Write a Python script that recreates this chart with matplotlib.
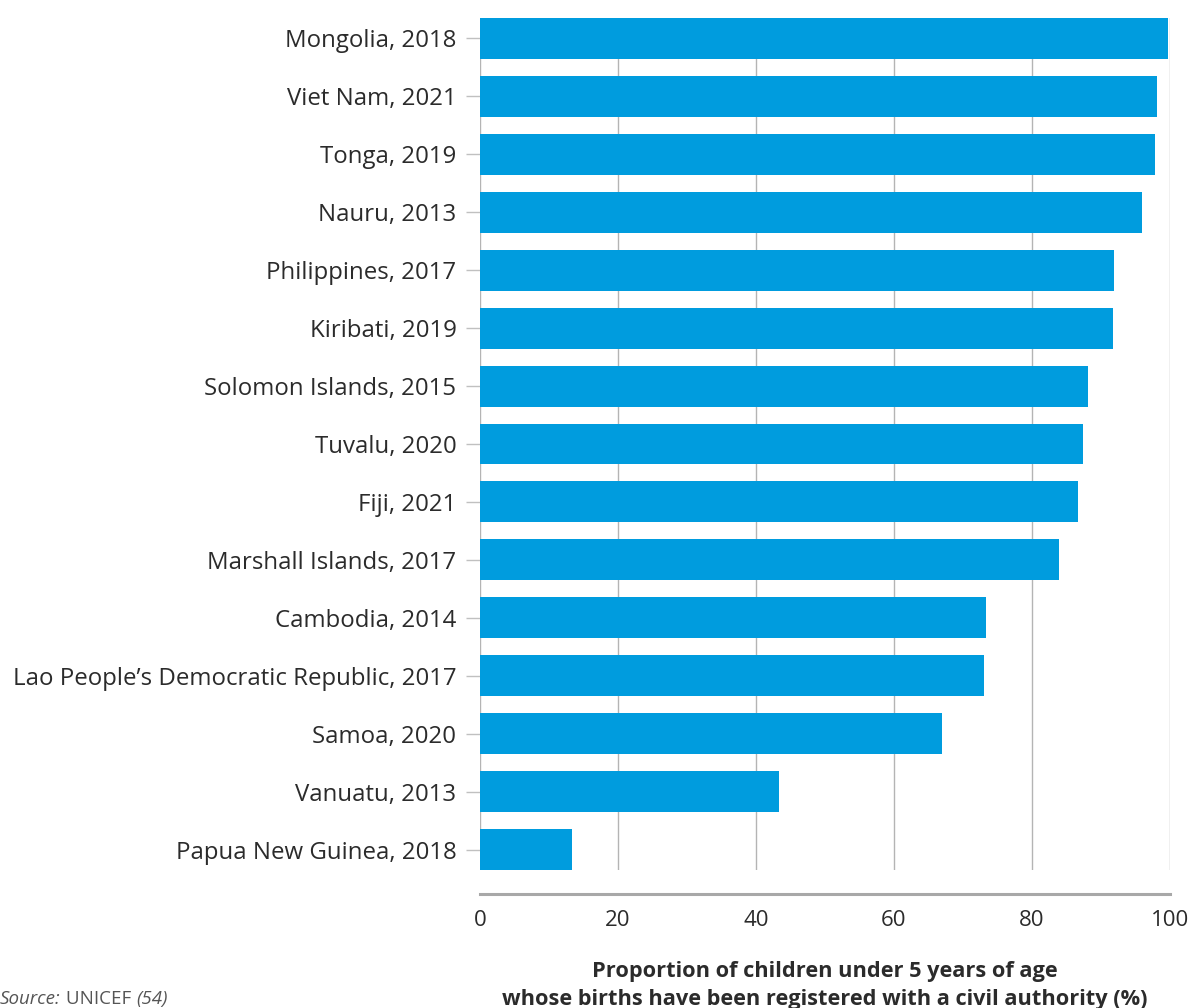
import matplotlib
matplotlib.use("Agg")
import matplotlib.pyplot as plt

plt.rcParams['font.family'] = ['Open Sans', 'DejaVu Sans']

countries = [
    "Mongolia, 2018",
    "Viet Nam, 2021",
    "Tonga, 2019",
    "Nauru, 2013",
    "Philippines, 2017",
    "Kiribati, 2019",
    "Solomon Islands, 2015",
    "Tuvalu, 2020",
    "Fiji, 2021",
    "Marshall Islands, 2017",
    "Cambodia, 2014",
    "Lao People\u2019s Democratic Republic, 2017",
    "Samoa, 2020",
    "Vanuatu, 2013",
    "Papua New Guinea, 2018",
]
registered_pct = [99.7, 98.1, 97.8, 95.9, 91.9, 91.7, 88.1, 87.4, 86.7, 83.9,
                  73.3, 73.0, 66.9, 43.4, 13.4]
x_ticks = [0, 20, 40, 60, 80, 100]
x_title = ("Proportion of children under 5 years of age\n"
           "whose births have been registered with a civil authority (%)")

BAR_COLOR = "#009cde"
GRID_COLOR = "#b4b4b4"
TEXT_COLOR = "#2b2b2b"

W, H = 1192, 1008
fig = plt.figure(figsize=(W / 100, H / 100), dpi=100)
ax = fig.add_axes([480 / W, 1 - 870 / H, 690 / W, 852 / H])

bar_h = 0.707
y = list(range(len(countries)))
ax.barh(y, registered_pct, height=bar_h, color=BAR_COLOR, zorder=3)

ax.set_xlim(0, 100)
ax.set_ylim(len(countries) - 1 + bar_h / 2, -bar_h / 2)

ax.set_xticks(x_ticks)
ax.set_xticklabels([str(t) for t in x_ticks])
ax.set_yticks(y)
ax.set_yticklabels(countries)

ax.xaxis.grid(True, color=GRID_COLOR, linewidth=1.0, zorder=0)
ax.yaxis.grid(False)

for s in ("top", "right", "left"):
    ax.spines[s].set_visible(False)
ax.spines["bottom"].set_position(("outward", 17))
ax.spines["bottom"].set_color("#a8a8a8")
ax.spines["bottom"].set_linewidth(2.2)

ax.tick_params(axis="x", length=0, pad=12, labelsize=16, labelcolor=TEXT_COLOR)
ax.tick_params(axis="y", length=10, width=1, color="#c0c0c0", pad=7,
               labelsize=17.3, labelcolor=TEXT_COLOR)

# Axis title, centred under the plot area
fig.text((480 + 1170) / 2 / W, 1 - 961 / H, x_title, fontsize=15.7,
         fontweight="bold", color=TEXT_COLOR, ha="center", va="top",
         linespacing=1.45)

# Source note in the bottom-left corner
src_color = "#555555"
t1 = fig.text(0.0, 0.0, "Source:", fontsize=13.5, style="italic",
              color=src_color, ha="left", va="bottom")
t2 = ax.annotate(" UNICEF ", xy=(1, 0), xycoords=t1, xytext=(0, 0),
                 textcoords="offset points", fontsize=13.5, color=src_color,
                 ha="left", va="bottom", annotation_clip=False)
t3 = ax.annotate("(54)", xy=(1, 0), xycoords=t2, xytext=(0, 0),
                 textcoords="offset points", fontsize=13.5, style="italic",
                 color=src_color, ha="left", va="bottom", annotation_clip=False)

fig.savefig("out.png", dpi=100)
